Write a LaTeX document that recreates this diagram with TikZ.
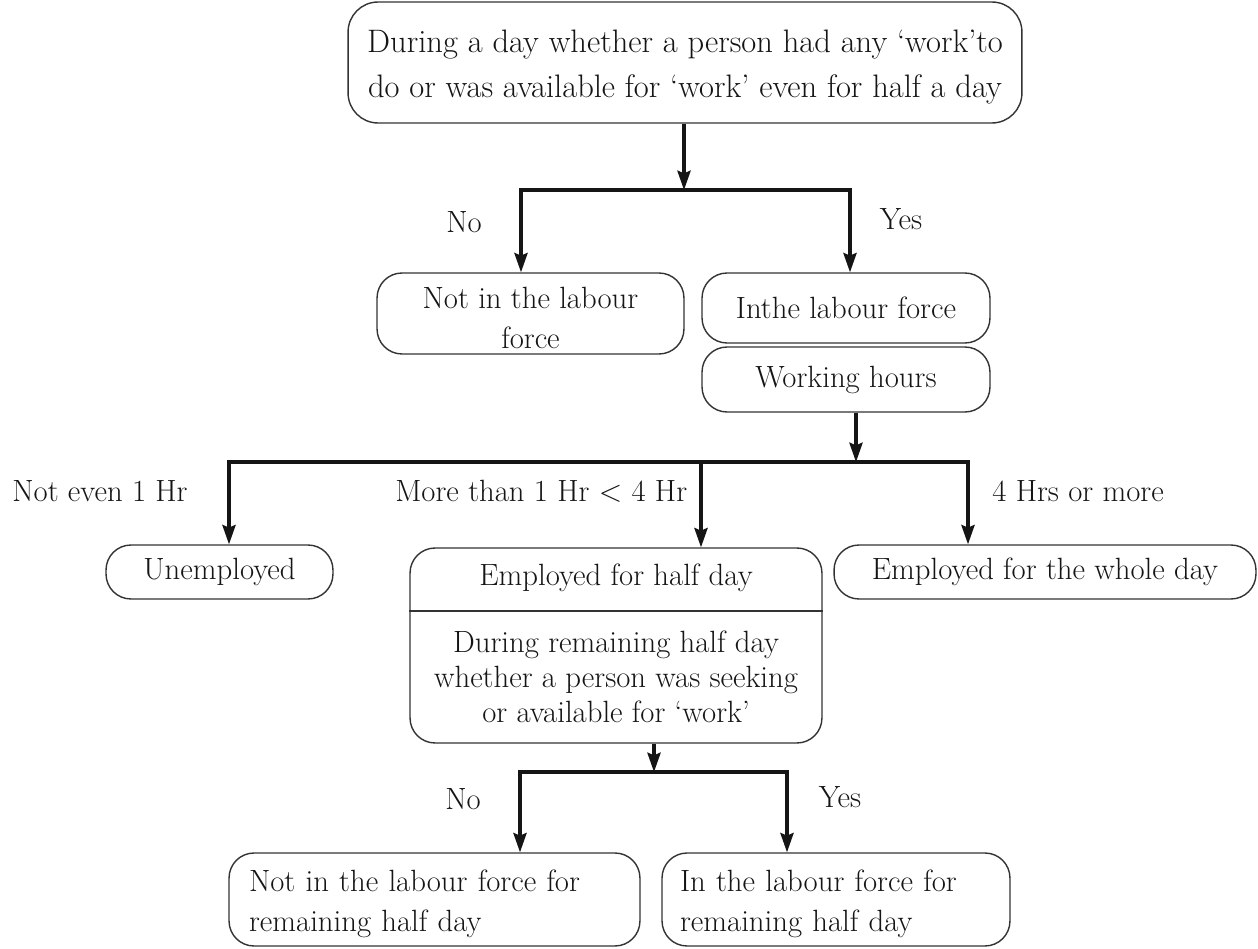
\documentclass[tikz,border=0pt]{standalone}
\usetikzlibrary{arrows.meta}
\definecolor{ink}{HTML}{151515}
\definecolor{edge}{HTML}{333333}
\begin{document}
\begin{tikzpicture}[x=0.02cm,y=-0.02cm,
  every node/.style={text=ink},
  box/.style={draw=edge, line width=0.8pt, rounded corners=0.5cm, inner sep=0pt,
              align=center, font=\fontsize{17.5}{22.8}\selectfont},
  lbl/.style={inner sep=0pt, font=\fontsize{17.5}{20}\selectfont},
  conn/.style={draw=ink, line width=1.8pt},
  arr/.style={conn, -{Stealth[length=11pt,width=7.5pt,inset=1.5pt]}}]

% page
\fill[white] (0,0) rectangle (1258,949);
\useasboundingbox (0,0) rectangle (1258,949);

% boxes (a little space above the text lowers it within its box)
\node[box, rounded corners=0.6cm, minimum width=13.48cm, minimum height=2.42cm,
      font=\fontsize{18.5}{25.5}\selectfont] (top) at (685,62.5)
  {\parbox{13cm}{\centering\vspace*{5pt}During a day whether a person had any ‘work’to\\do or was available for ‘work’ even for half a day}};
\node[box, minimum width=6.14cm, minimum height=1.62cm] (nolf) at (530.5,313.5)
  {\parbox{6cm}{\centering\vspace*{5.6pt}Not in the labour\\force}};
\node[box, minimum width=5.76cm, minimum height=1.40cm] (inlf) at (846,308) {Inthe labour force};
\node[box, minimum width=5.76cm, minimum height=1.30cm] (wh) at (846,379.5) {Working hours};
\node[box, minimum width=4.54cm, minimum height=1.08cm] (unemp) at (219.5,572) {Unemployed};
\node[box, minimum width=8.24cm, minimum height=3.90cm] (half) at (616,645.5) {};
\node[box, minimum width=8.44cm, minimum height=1.08cm] (whole) at (1045,572) {Employed for the whole day};
\node[box, minimum width=8.22cm, minimum height=1.86cm, align=left, text width=7.42cm,
      inner xsep=0.4cm] (notrem) at (434.5,899.5)
  {\parbox{7.42cm}{\vspace*{4.5pt}Not in the labour force for\\remaining half day}};
\node[box, minimum width=6.96cm, minimum height=1.86cm, align=left, text width=6.24cm,
      inner xsep=0.36cm] (inrem) at (836,899.5)
  {\parbox{6.24cm}{\vspace*{4.5pt}In the labour force for\\remaining half day}};

% two-part box: heading, divider and question
\coordinate (hdiv) at (0,611);
\draw[draw=edge, line width=0.8pt] (half.west |- hdiv) -- (half.east |- hdiv);
\node[lbl] (halfhead) at (616,578) {Employed for half day};
\node[lbl, align=center, font=\fontsize{17.5}{19.9}\selectfont] (halfq) at (616,677)
  {During remaining half day\\whether a person was seeking\\or available for ‘work’};

% first split
\coordinate (j1) at (684,190);
\coordinate (j1l) at (521,190);
\coordinate (j1r) at (850,190);
\draw[arr] (top.south -| j1) -- (j1);
\draw[arr] (j1) -| (j1l |- nolf.north);
\draw[arr] (j1) -| (j1r |- inlf.north);

% second split
\coordinate (j2) at (856,462);
\coordinate (j2l) at (229,462);
\coordinate (j2m) at (701,462);
\coordinate (j2r) at (968,462);
\draw[arr] (wh.south -| j2) -- (j2);
\draw[arr] (j2) -| (j2l |- unemp.north);
\draw[arr] (j2) -| (j2m |- half.north);
\draw[arr] (j2) -| (j2r |- whole.north);

% third split
\coordinate (j3) at (654,772);
\coordinate (j3l) at (520,772);
\coordinate (j3r) at (787,772);
\draw[arr] (half.south -| j3) -- (j3);
\draw[arr] (j3) -| (j3l |- notrem.north);
\draw[arr] (j3) -| (j3r |- inrem.north);

% branch labels
\node[lbl] (no1) at (464,222) {No};
\node[lbl] (yes1) at (901,219) {Yes};
\node[lbl, anchor=west] (lt1) at (12,491) {Not even 1 Hr};
\node[lbl, anchor=west] (lt4) at (395,491) {More than 1 Hr \textless{} 4 Hr};
\node[lbl, anchor=west] (ge4) at (992,491) {4 Hrs or more};
\node[lbl] (no2) at (463,799) {No};
\node[lbl] (yes2) at (840,797) {Yes};
\end{tikzpicture}
\end{document}
